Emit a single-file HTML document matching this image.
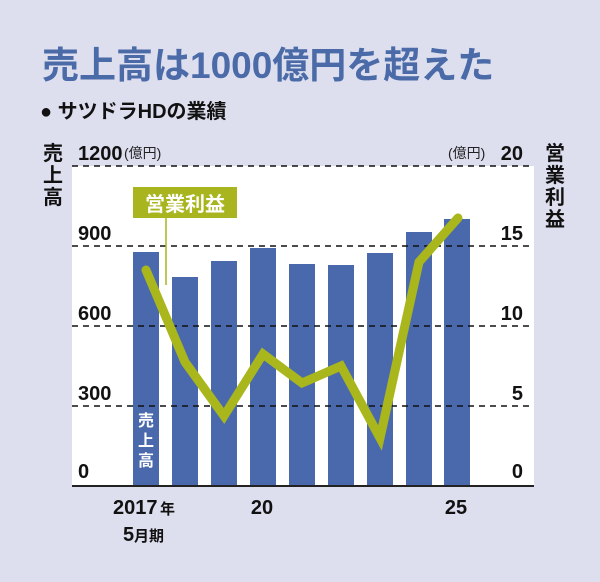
<!DOCTYPE html>
<html><head><meta charset="utf-8"><style>
body{margin:0;background:#dddeee;}
svg{display:block}
text{font-family:"Liberation Sans","Noto Sans CJK JP",sans-serif;}
</style></head><body>
<svg width="600" height="582" viewBox="0 0 600 582">
<rect width="600" height="582" fill="#dddeee"/>
<text x="42" y="78" font-size="37" font-weight="bold" fill="#4a6aa8">売上高は1000億円を超えた</text>
<text x="40" y="118" font-size="20" font-weight="bold" fill="#111">● サツドラHDの業績</text>
<rect x="72" y="166" width="462" height="320" fill="#fff"/>
<g fill="#4a69ad">
<rect x="133" y="252" width="26" height="234"/>
<rect x="172" y="277" width="26" height="209"/>
<rect x="211" y="261" width="26" height="225"/>
<rect x="250" y="248" width="26" height="238"/>
<rect x="289" y="264" width="26" height="222"/>
<rect x="328" y="265" width="26" height="221"/>
<rect x="367" y="253" width="26" height="233"/>
<rect x="406" y="232" width="26" height="254"/>
<rect x="444" y="219" width="26" height="267"/>
</g>
<g stroke="#111" stroke-width="1.5" stroke-dasharray="6,5">
<line x1="72" y1="166" x2="534" y2="166"/>
<line x1="72" y1="246" x2="534" y2="246"/>
<line x1="72" y1="326" x2="534" y2="326"/>
<line x1="72" y1="406" x2="534" y2="406"/>
</g>
<line x1="72" y1="486" x2="534" y2="486" stroke="#222" stroke-width="2"/>
<line x1="166" y1="215" x2="166" y2="285" stroke="#a8b51f" stroke-width="1.5"/>
<rect x="133" y="187" width="104" height="31" fill="#a8b51f"/>
<text x="185" y="211" font-size="20" font-weight="bold" fill="#fff" text-anchor="middle">営業利益</text>
<polyline points="146,270 185,362 224,416 263,354 302,383 341,366 380,438 419,262 458,218" fill="none" stroke="#a9b61c" stroke-width="9" stroke-linejoin="miter" stroke-linecap="round"/>
<g font-size="16" fill="#fff" text-anchor="middle" font-weight="bold"><text x="146" y="426">売</text><text x="146" y="446">上</text><text x="146" y="466">高</text></g>
<g font-size="20" fill="#111" font-weight="bold">
<text x="78" y="160">1200</text><text x="78" y="240">900</text><text x="78" y="320">600</text><text x="78" y="400">300</text><text x="78" y="478">0</text>
<text x="523" y="160" text-anchor="end">20</text><text x="523" y="240" text-anchor="end">15</text><text x="523" y="320" text-anchor="end">10</text><text x="523" y="400" text-anchor="end">5</text><text x="523" y="478" text-anchor="end">0</text>
<text x="113" y="514">2017</text><text x="262" y="514" text-anchor="middle">20</text><text x="456" y="514" text-anchor="middle">25</text>
<text x="123" y="541">5</text>
</g>
<g font-size="15" fill="#111" font-weight="bold"><text x="160" y="514">年</text><text x="134" y="541">月期</text></g>
<g font-size="14" fill="#222"><text x="124" y="158">(億円)</text><text x="448" y="158">(億円)</text></g>
<g font-size="20" fill="#111" font-weight="bold" text-anchor="middle">
<text x="53" y="160">売</text><text x="53" y="182">上</text><text x="53" y="204">高</text>
<text x="555" y="160">営</text><text x="555" y="182">業</text><text x="555" y="204">利</text><text x="555" y="226">益</text>
</g>
</svg>
</body></html>
